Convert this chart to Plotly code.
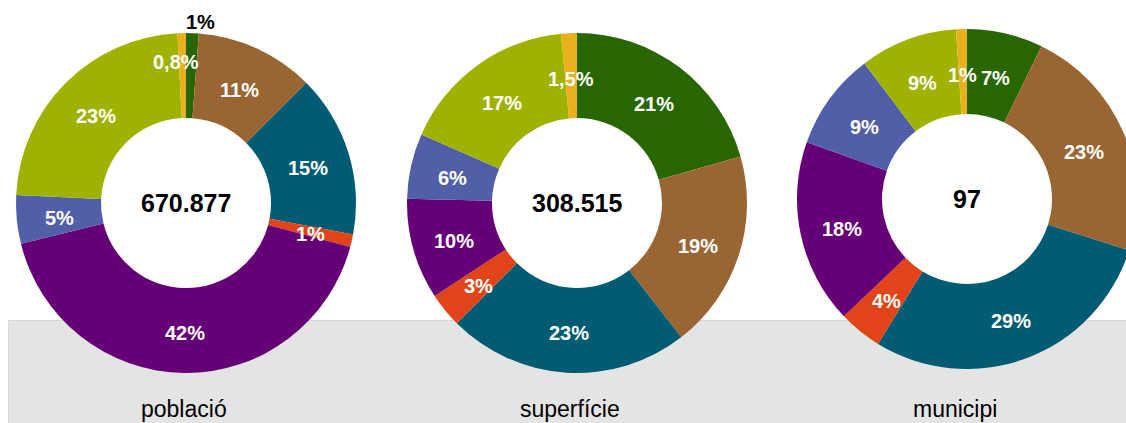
import numpy as np
import plotly.graph_objects as go

# ---------------- data ----------------
groups = ["grup 1", "grup 2", "grup 3", "grup 4", "grup 5", "grup 6", "grup 7", "grup 8"]
colors = ["#286600", "#996633", "#005b73", "#e04418", "#660077", "#505fa8", "#a0b200", "#e8b01c"]

poblacio_share = [1.2, 11.3, 15.4, 1.2, 41.9, 4.6, 23.4, 0.8]
superficie_share = [20.6, 18.9, 23.0, 3.3, 9.6, 6.2, 16.9, 1.5]
municipi_count = [7, 22, 28, 4, 17, 9, 9, 1]

poblacio_labels = ["1%", "11%", "15%", "1%", "42%", "5%", "23%", "0,8%"]
superficie_labels = ["21%", "19%", "23%", "3%", "10%", "6%", "17%", "1,5%"]
municipi_labels = ["7%", "23%", "29%", "4%", "18%", "9%", "9%", "1%"]

totals = ["670.877", "308.515", "97"]
titles = ["població", "superfície", "municipi"]

# ---------------- layout (pixels) ----------------
W, H = 1140, 423
R = 170
centers = [(186, 203), (577, 203), (967, 199)]
title_x = [184, 570, 955]
title_y = 409

series = [poblacio_share, superficie_share, municipi_count]
labels = [poblacio_labels, superficie_labels, municipi_labels]

# special label placements: (donut, slice) -> (radius factor, xshift, yshift, color)
special = {(0, 0): (1.065, 8, 0, "black"), (0, 7): (0.85, -6, -3, "white")}

BOLD = "Liberation Sans Narrow, Arial Narrow, Liberation Sans, Arial, sans-serif"

fig = go.Figure()
annotations = []
for d, (vals, labs, (cx, cy)) in enumerate(zip(series, labels, centers)):
    fig.add_trace(go.Pie(
        values=vals, labels=groups, sort=False, direction="clockwise", rotation=0,
        hole=0.5, marker=dict(colors=colors, line=dict(width=0)),
        textinfo="none", hoverinfo="label+percent", showlegend=False,
        domain=dict(x=[(cx - R) / W, (cx + R) / W], y=[(H - cy - R) / H, (H - cy + R) / H]),
    ))
    v = np.array(vals, dtype=float)
    frac = v / v.sum()
    cum = np.cumsum(frac)
    mids = (cum - frac / 2) * 2 * np.pi
    for i, (m, t) in enumerate(zip(mids, labs)):
        rf, xs, ys, col = special.get((d, i), (0.75, 0, -3, "white"))
        x = cx + rf * R * np.sin(m)
        y = cy - rf * R * np.cos(m)
        annotations.append(dict(x=x, y=y, xref="x", yref="y", text="<b>%s</b>" % t,
                                showarrow=False, xshift=xs, yshift=ys,
                                xanchor="center", yanchor="middle",
                                font=dict(family=BOLD, size=20, color=col)))
    annotations.append(dict(x=cx, y=cy, xref="x", yref="y", text="<b>%s</b>" % totals[d],
                            showarrow=False, xanchor="center", yanchor="middle",
                            font=dict(family=BOLD, size=25, color="black")))
    annotations.append(dict(x=title_x[d], y=title_y, xref="x", yref="y", text=titles[d],
                            showarrow=False, xanchor="center", yanchor="middle",
                            font=dict(family="Liberation Sans, Arial, sans-serif", size=23, color="black")))

fig.update_layout(
    width=W, height=H, margin=dict(l=0, r=0, t=0, b=0),
    paper_bgcolor="white", plot_bgcolor="rgba(0,0,0,0)",
    xaxis=dict(range=[0, W], visible=False, domain=[0, 1], fixedrange=True),
    yaxis=dict(range=[H, 0], visible=False, domain=[0, 1], fixedrange=True),
    annotations=annotations,
    shapes=[dict(type="rect", xref="x", yref="y", x0=8.5, x1=W + 5, y0=320.5, y1=H + 5,
                 fillcolor="#e4e4e4", line=dict(color="#d6d6d6", width=1), layer="below")],
)

fig.write_html(
    "out.html",
    config={"displayModeBar": False},
    post_script="document.body.style.margin='0';document.body.style.overflow='hidden';",
)
